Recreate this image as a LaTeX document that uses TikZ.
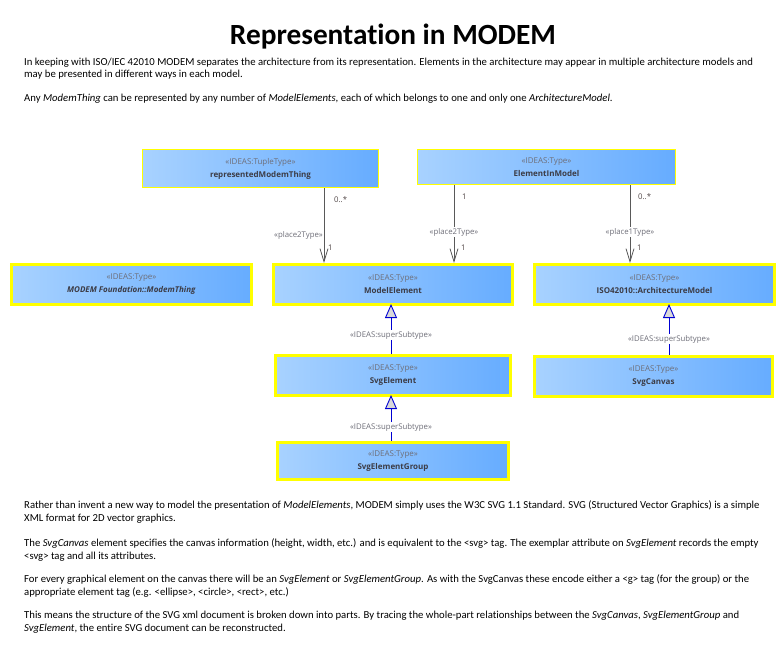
\documentclass[tikz,border=0pt]{standalone}
\usepackage{fontspec}
\setmainfont[Ligatures={NoCommon}]{Carlito}
\newfontfamily\boxfont{Open Sans}
\usetikzlibrary{arrows.meta,calc}
\definecolor{boxL}{RGB}{168,210,255}
\definecolor{boxR}{RGB}{102,172,255}
\definecolor{stgrey}{RGB}{110,110,120}
\definecolor{namegrey}{RGB}{60,60,70}
\definecolor{boxborder}{RGB}{255,255,0}
\definecolor{genblue}{RGB}{0,0,210}
\definecolor{lblgrey}{RGB}{80,70,70}
\tikzset{
  umlbox/.style={draw=boxborder, line width=1pt, left color=boxL, right color=boxR,
    inner sep=0pt, anchor=north west, align=center, text=namegrey,
    font=\boxfont\fontsize{8}{13}\selectfont},
  thickbox/.style={umlbox, line width=3pt},
  assoc/.style={draw=black!65, line width=0.8pt, -{Straight Barb[length=13pt,width=8pt,line width=0.8pt]}},
  gen/.style={draw=genblue, line width=0.9pt, -{Triangle[open,length=14pt,width=12pt,fill=black!15,line width=0.9pt]}},
  lbl/.style={font=\boxfont\fontsize{7.8}{9}\selectfont, text=lblgrey, inner sep=1pt},
  stlbl/.style={font=\boxfont\fontsize{7.8}{9}\selectfont, text=stgrey, inner sep=1.5pt, fill=white},
  para/.style={anchor=base west, inner sep=0pt, font=\fontsize{10.7}{12}\selectfont},
}
\newcommand{\stereo}[1]{{\color{stgrey}«#1»}}
\begin{document}
\begin{tikzpicture}[x=1pt,y=-1pt]
\useasboundingbox[fill=white] (0,0) rectangle (783,658);

\node[anchor=base, inner sep=0pt, font=\bfseries\fontsize{29.3}{32}\selectfont] (title) at (393,45) {Representation in MODEM};

\node[para] (p1) at (24,66) {In keeping with ISO/IEC 42010 MODEM separates the architecture from its representation. Elements in the architecture may appear in multiple architecture models and};
\node[para] (p2) at (24,78) {may be presented in different ways in each model.};
\node[para] (p3) at (24,102) {Any \textit{ModemThing} can be represented by any number of \textit{ModelElements}, each of which belongs to one and only one \textit{ArchitectureModel}.};

% boxes
\node[umlbox, minimum width=236, minimum height=38] (rmt) at (142,149) {\stereo{IDEAS:TupleType}\\ \textbf{representedModemThing}};
\node[umlbox, minimum width=258, minimum height=35] (eim) at (417,149) {\stereo{IDEAS:Type}\\ \textbf{ElementInModel}};
\node[thickbox, minimum width=240, minimum height=40] (mt) at (10,263) {\stereo{IDEAS:Type}\\ \textbf{\itshape MODEM Foundation::ModemThing}};
\node[thickbox, minimum width=239, minimum height=40] (me) at (272,263) {\stereo{IDEAS:Type}\\ \textbf{ModelElement}};
\node[thickbox, minimum width=240, minimum height=40] (am) at (533,263) {\stereo{IDEAS:Type}\\ \textbf{ISO42010::ArchitectureModel}};
\node[thickbox, minimum width=235, minimum height=40] (se) at (274,354) {\stereo{IDEAS:Type}\\ \textbf{SvgElement}};
\node[thickbox, minimum width=238, minimum height=40] (sc) at (533,355) {\stereo{IDEAS:Type}\\ \textbf{SvgCanvas}};
\node[thickbox, minimum width=231, minimum height=37] (seg) at (276,441) {\stereo{IDEAS:Type}\\ \textbf{SvgElementGroup}};

% associations
\coordinate (xa) at (324,0);
\coordinate (xb) at (454,0);
\coordinate (xc) at (630,0);
\draw[assoc] (rmt.south -| xa) -- (me.north -| xa);
\draw[assoc] (eim.south -| xb) -- (me.north -| xb);
\draw[assoc] (eim.south -| xc) -- (am.north -| xc);

\node[lbl, anchor=west] (la1) at (333,200) {0..*};
\node[lbl, anchor=east, text=stgrey] (la2) at (324,235) {«place2Type»};
\node[lbl, anchor=west] (la3) at (327,248) {1};

\node[lbl, anchor=west] (lb1) at (461,197) {1};
\node[stlbl] (lb2) at (454,232) {«place2Type»};
\node[lbl, anchor=west] (lb3) at (460,248) {1};

\node[lbl, anchor=west] (lc1) at (637,197) {0..*};
\node[stlbl] (lc2) at (630,232) {«place1Type»};
\node[lbl, anchor=west] (lc3) at (636,248) {1};

% generalizations
\coordinate (xg) at (391,0);
\coordinate (xh) at (669,0);
\draw[gen] (se.north -| xg) -- ([yshift=2]me.south -| xg);
\draw[gen] (seg.north -| xg) -- ([yshift=2]se.south -| xg);
\draw[gen] (sc.north -| xh) -- ([yshift=2]am.south -| xh);
\node[stlbl] (g1) at (391,335) {«IDEAS:superSubtype»};
\node[stlbl] (g2) at (391,427) {«IDEAS:superSubtype»};
\node[stlbl] (g3) at (669,339) {«IDEAS:superSubtype»};

% bottom text
\node[para] (q1) at (24,508) {Rather than invent a new way to model the presentation of \textit{ModelElements}, MODEM simply uses the W3C SVG 1.1 Standard. SVG (Structured Vector Graphics) is a simple};
\node[para] (q2) at (24,521) {XML format for 2D vector graphics.};
\node[para] (q3) at (24,546) {The \textit{SvgCanvas} element specifies the canvas information (height, width, etc.) and is equivalent to the <svg> tag. The exemplar attribute on \textit{SvgElement} records the empty};
\node[para] (q4) at (24,559) {<svg> tag and all its attributes.};
\node[para] (q5) at (24,582) {For every graphical element on the canvas there will be an \textit{SvgElement} or \textit{SvgElementGroup}. As with the SvgCanvas these encode either a <g> tag (for the group) or the};
\node[para] (q6) at (24,595) {appropriate element tag (e.g. <ellipse>, <circle>, <rect>, etc.)};
\node[para] (q7) at (24,618) {This means the structure of the SVG xml document is broken down into parts. By tracing the whole-part relationships between the \textit{SvgCanvas}, \textit{SvgElementGroup} and};
\node[para] (q8) at (24,631) {\textit{SvgElement}, the entire SVG document can be reconstructed.};
\end{tikzpicture}
\end{document}
